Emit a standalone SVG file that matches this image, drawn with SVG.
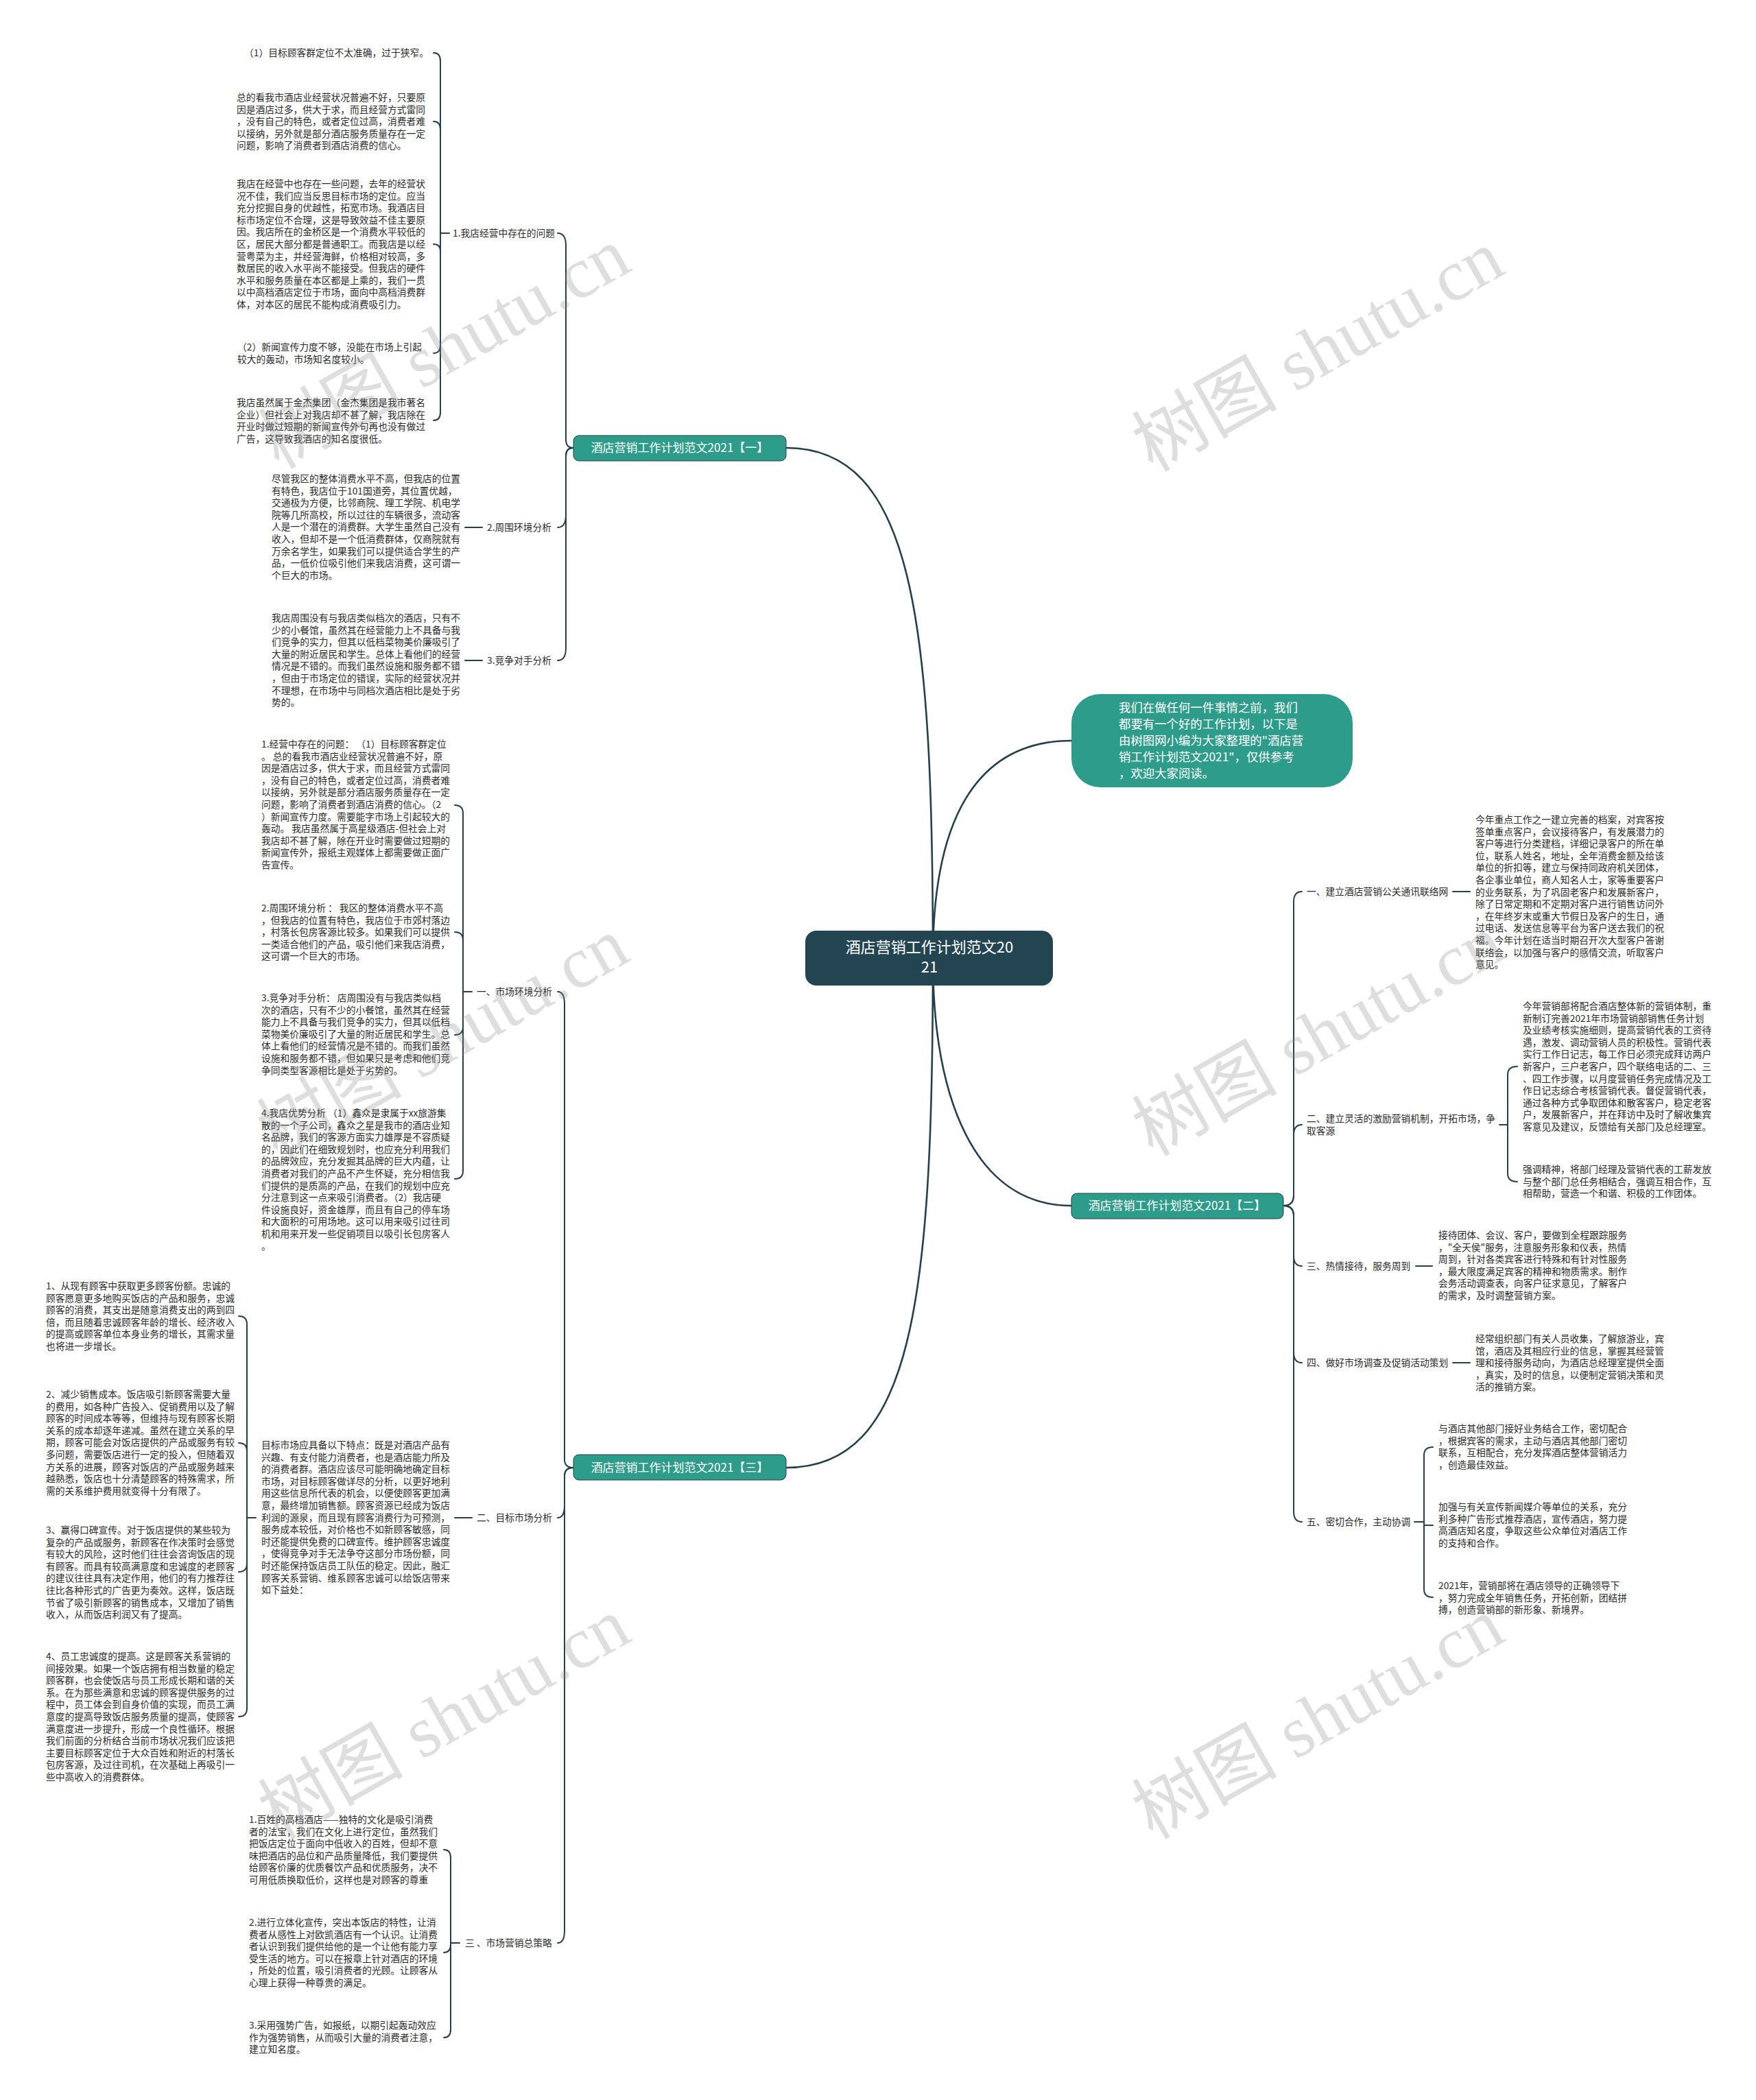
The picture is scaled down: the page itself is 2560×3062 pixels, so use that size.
<svg xmlns="http://www.w3.org/2000/svg" width="2560" height="3062" viewBox="0 0 2560 3062">
<style>
.t{font-family:"Noto Sans CJK SC","Noto Sans",sans-serif;font-size:13.75px;fill:#2b2b2b}
.br{font-family:"Noto Sans CJK SC","Noto Sans",sans-serif;font-size:17px;fill:#ffffff}
.ln{fill:none;stroke:#24404d;stroke-width:2;stroke-linecap:round}
.mn{fill:none;stroke:#24404d;stroke-width:2.6;stroke-linecap:round}
.wm{font-family:"Liberation Serif","Noto Sans CJK SC",serif;font-size:106px;fill:#8a8a8a;opacity:0.28}
</style>
<rect x="0" y="0" width="2560" height="3062" fill="#ffffff"/>

<g id="connectors">
<path class="mn" d="M1146 653 C1330 653 1360 900 1360 1397"/>
<path class="mn" d="M1146 2140 C1330 2140 1360 1900 1360 1397"/>
<path class="mn" d="M1562 1080 C1420 1080 1360 1200 1360 1397"/>
<path class="mn" d="M1562 1758 C1420 1758 1360 1600 1360 1397"/>
<path class="ln" d="M813 340 Q825 340 825 358 L825 641 Q825 653 836 653"/>
<path class="ln" d="M813 769 Q825 769 825 751 L825 665 Q825 653 836 653"/>
<path class="ln" d="M813 963 Q825 963 825 945 L825 665 Q825 653 836 653"/>
<path class="ln" d="M655 340 L642 340"/>
<path class="ln" d="M642 340 L642 89 Q642 77 632 77"/>
<path class="ln" d="M642 340 L642 189 Q642 177 632 177"/>
<path class="ln" d="M642 340 L642 366 Q642 356 632 356"/>
<path class="ln" d="M642 340 L642 503 Q642 515 632 515"/>
<path class="ln" d="M642 340 L642 601 Q642 613 632 613"/>
<path class="ln" d="M678 769 L703 769"/>
<path class="ln" d="M678 963 L703 963"/>
<path class="ln" d="M813 1446 Q823 1446 823 1464 L823 2128 Q823 2140 836 2140"/>
<path class="ln" d="M813 2213 Q823 2213 823 2195 L823 2152 Q823 2140 836 2140"/>
<path class="ln" d="M813 2833 Q823 2833 823 2815 L823 2152 Q823 2140 836 2140"/>
<path class="ln" d="M688 1446 L675 1446"/>
<path class="ln" d="M675 1446 L675 1186 Q675 1174 663 1174"/>
<path class="ln" d="M675 1446 L675 1371 Q675 1359 663 1359"/>
<path class="ln" d="M675 1446 L675 1497 Q675 1509 663 1509"/>
<path class="ln" d="M675 1446 L675 1707 Q675 1719 663 1719"/>
<path class="ln" d="M663 2213 L688 2213"/>
<path class="ln" d="M373 2213 L360 2213"/>
<path class="ln" d="M360 2213 L360 1931 Q360 1919 348 1919"/>
<path class="ln" d="M360 2213 L360 2116 Q360 2104 348 2104"/>
<path class="ln" d="M360 2213 L360 2280 Q360 2292 348 2292"/>
<path class="ln" d="M360 2213 L360 2491 Q360 2503 348 2503"/>
<path class="ln" d="M670 2833 L657 2833"/>
<path class="ln" d="M657 2833 L657 2709 Q657 2697 647 2697"/>
<path class="ln" d="M657 2833 L657 2835 Q657 2847 647 2847"/>
<path class="ln" d="M657 2833 L657 2959 Q657 2971 647 2971"/>
<path class="ln" d="M1871 1758 Q1886 1758 1886 1743 L1886 1315 Q1886 1300 1898 1300"/>
<path class="ln" d="M1871 1758 Q1886 1758 1886 1743 L1886 1655 Q1886 1640 1898 1640"/>
<path class="ln" d="M1871 1758 Q1886 1758 1886 1773 L1886 1831 Q1886 1846 1898 1846"/>
<path class="ln" d="M1871 1758 Q1886 1758 1886 1773 L1886 1972 Q1886 1987 1898 1987"/>
<path class="ln" d="M1871 1758 Q1886 1758 1886 1773 L1886 2204 Q1886 2219 1898 2219"/>
<path class="ln" d="M2118 1300 L2143 1300"/>
<path class="ln" d="M2186 1640 L2198 1640"/>
<path class="ln" d="M2198 1640 L2198 1567 Q2198 1555 2212 1555"/>
<path class="ln" d="M2198 1640 L2198 1711 Q2198 1723 2212 1723"/>
<path class="ln" d="M2064 1846 L2088 1846"/>
<path class="ln" d="M2118 1987 L2143 1987"/>
<path class="ln" d="M2062 2219 L2076 2219"/>
<path class="ln" d="M2076 2219 L2076 2122 Q2076 2110 2089 2110"/>
<path class="ln" d="M2076 2219 L2076 2224 Q2076 2224 2089 2224"/>
<path class="ln" d="M2076 2219 L2076 2317 Q2076 2329 2089 2329"/>
</g>

<g id="root">
<rect x="1174" y="1357" width="361" height="80" rx="16" fill="#234451"/>
<text class="br" style="font-size:22px" text-anchor="middle" x="1355" y="1389"><tspan x="1355">酒店营销工作计划范文20</tspan><tspan x="1355" dy="29">21</tspan></text>
</g>

<g id="intro">
<rect x="1562" y="1012" width="410" height="136" rx="42" fill="#2e9c8a"/>
<text class="br" style="font-size:17.4px" x="1631" y="1038"><tspan x="1631">我们在做任何一件事情之前，我们</tspan><tspan x="1631" dy="24">都要有一个好的工作计划，以下是</tspan><tspan x="1631" dy="24">由树图网小编为大家整理的"酒店营</tspan><tspan x="1631" dy="24">销工作计划范文2021"，仅供参考</tspan><tspan x="1631" dy="24">，欢迎大家阅读。</tspan></text>
</g>

<g id="b1">
<rect x="836" y="635" width="310" height="37" rx="8" fill="#2e9c8a" stroke="#24404d" stroke-width="1"/>
<text class="br" text-anchor="middle" x="991" y="659">酒店营销工作计划范文2021【一】</text>
</g>
<g id="b2">
<rect x="1562" y="1740" width="309" height="37" rx="8" fill="#2e9c8a" stroke="#24404d" stroke-width="1"/>
<text class="br" text-anchor="middle" x="1716" y="1764">酒店营销工作计划范文2021【二】</text>
</g>
<g id="b3">
<rect x="836" y="2121" width="310" height="37" rx="8" fill="#2e9c8a" stroke="#24404d" stroke-width="1"/>
<text class="br" text-anchor="middle" x="991" y="2146">酒店营销工作计划范文2021【三】</text>
</g>

<g id="g1-label"><text class="t" x="660" y="345">1.我店经营中存在的问题</text></g>
<g id="g1-a"><text class="t" x="356" y="82">（1）目标顾客群定位不太准确，过于狭窄。</text></g>
<g id="g1-b"><text class="t" x="345" y="147"><tspan x="345">总的看我市酒店业经营状况普遍不好，只要原</tspan><tspan x="345" dy="17.6">因是酒店过多，供大于求，而且经营方式雷同</tspan><tspan x="345" dy="17.6">，没有自己的特色，或者定位过高，消费者难</tspan><tspan x="345" dy="17.6">以接纳，另外就是部分酒店服务质量存在一定</tspan><tspan x="345" dy="17.6">问题，影响了消费者到酒店消费的信心。</tspan></text></g>
<g id="g1-c"><text class="t" x="345" y="273"><tspan x="345">我店在经营中也存在一些问题，去年的经营状</tspan><tspan x="345" dy="17.6">况不佳，我们应当反思目标市场的定位。应当</tspan><tspan x="345" dy="17.6">充分挖掘自身的优越性，拓宽市场。我酒店目</tspan><tspan x="345" dy="17.6">标市场定位不合理，这是导致效益不佳主要原</tspan><tspan x="345" dy="17.6">因。我店所在的金桥区是一个消费水平较低的</tspan><tspan x="345" dy="17.6">区，居民大部分都是普通职工。而我店是以经</tspan><tspan x="345" dy="17.6">营粤菜为主，并经营海鲜，价格相对较高，多</tspan><tspan x="345" dy="17.6">数居民的收入水平尚不能接受。但我店的硬件</tspan><tspan x="345" dy="17.6">水平和服务质量在本区都是上乘的，我们一贯</tspan><tspan x="345" dy="17.6">以中高档酒店定位于市场，面向中高档消费群</tspan><tspan x="345" dy="17.6">体，对本区的居民不能构成消费吸引力。</tspan></text></g>
<g id="g1-d"><text class="t" x="346" y="511"><tspan x="346">（2）新闻宣传力度不够，没能在市场上引起</tspan><tspan x="346" dy="17.6">较大的轰动，市场知名度较小。</tspan></text></g>
<g id="g1-e"><text class="t" x="345" y="592"><tspan x="345">我店虽然属于金杰集团（金杰集团是我市著名</tspan><tspan x="345" dy="17.6">企业）但社会上对我店却不甚了解，我店除在</tspan><tspan x="345" dy="17.6">开业时做过短期的新闻宣传外句再也没有做过</tspan><tspan x="345" dy="17.6">广告，这导致我酒店的知名度很低。</tspan></text></g>

<g id="g2-label"><text class="t" x="710" y="774">2.周围环境分析</text></g>
<g id="g2-a"><text class="t" x="396" y="703"><tspan x="396">尽管我区的整体消费水平不高，但我店的位置</tspan><tspan x="396" dy="17.6">有特色，我店位于101国道旁，其位置优越，</tspan><tspan x="396" dy="17.6">交通极为方便，比邻商院、理工学院、机电学</tspan><tspan x="396" dy="17.6">院等几所高校，所以过往的车辆很多，流动客</tspan><tspan x="396" dy="17.6">人是一个潜在的消费群。大学生虽然自己没有</tspan><tspan x="396" dy="17.6">收入，但却不是一个低消费群体，仅商院就有</tspan><tspan x="396" dy="17.6">万余名学生，如果我们可以提供适合学生的产</tspan><tspan x="396" dy="17.6">品，一低价位吸引他们来我店消费，这可谓一</tspan><tspan x="396" dy="17.6">个巨大的市场。</tspan></text></g>

<g id="g3-label"><text class="t" x="710" y="968">3.竞争对手分析</text></g>
<g id="g3-a"><text class="t" x="396" y="906"><tspan x="396">我店周围没有与我店类似档次的酒店，只有不</tspan><tspan x="396" dy="17.6">少的小餐馆，虽然其在经营能力上不具备与我</tspan><tspan x="396" dy="17.6">们竞争的实力，但其以低档菜物美价廉吸引了</tspan><tspan x="396" dy="17.6">大量的附近居民和学生。总体上看他们的经营</tspan><tspan x="396" dy="17.6">情况是不错的。而我们虽然设施和服务都不错</tspan><tspan x="396" dy="17.6">，但由于市场定位的错误，实际的经营状况并</tspan><tspan x="396" dy="17.6">不理想，在市场中与同档次酒店相比是处于劣</tspan><tspan x="396" dy="17.6">势的。</tspan></text></g>

<g id="m1-label"><text class="t" x="695" y="1451">一、市场环境分析</text></g>
<g id="m1-a"><text class="t" x="381" y="1090"><tspan x="381">1.经营中存在的问题：  （1）目标顾客群定位</tspan><tspan x="381" dy="17.6">。 总的看我市酒店业经营状况普遍不好，原</tspan><tspan x="381" dy="17.6">因是酒店过多，供大于求，而且经营方式雷同</tspan><tspan x="381" dy="17.6">，没有自己的特色，或者定位过高，消费者难</tspan><tspan x="381" dy="17.6">以接纳，另外就是部分酒店服务质量存在一定</tspan><tspan x="381" dy="17.6">问题，影响了消费者到酒店消费的信心。（2</tspan><tspan x="381" dy="17.6">）新闻宣传力度。需要能字市场上引起较大的</tspan><tspan x="381" dy="17.6">轰动。 我店虽然属于高星级酒店-但社会上对</tspan><tspan x="381" dy="17.6">我店却不甚了解，除在开业时需要做过短期的</tspan><tspan x="381" dy="17.6">新闻宣传外，报纸主观媒体上都需要做正面广</tspan><tspan x="381" dy="17.6">告宣传。</tspan></text></g>
<g id="m1-b"><text class="t" x="381" y="1329"><tspan x="381">2.周围环境分析 ：  我区的整体消费水平不高</tspan><tspan x="381" dy="17.6">，但我店的位置有特色，我店位于市郊村落边</tspan><tspan x="381" dy="17.6">，村落长包房客源比较多。如果我们可以提供</tspan><tspan x="381" dy="17.6">一类适合他们的产品，吸引他们来我店消费，</tspan><tspan x="381" dy="17.6">这可谓一个巨大的市场。</tspan></text></g>
<g id="m1-c"><text class="t" x="381" y="1460"><tspan x="381">3.竞争对手分析：  店周围没有与我店类似档</tspan><tspan x="381" dy="17.6">次的酒店，只有不少的小餐馆，虽然其在经营</tspan><tspan x="381" dy="17.6">能力上不具备与我们竞争的实力，但其以低档</tspan><tspan x="381" dy="17.6">菜物美价廉吸引了大量的附近居民和学生。总</tspan><tspan x="381" dy="17.6">体上看他们的经营情况是不错的。而我们虽然</tspan><tspan x="381" dy="17.6">设施和服务都不错，但如果只是考虑和他们竞</tspan><tspan x="381" dy="17.6">争同类型客源相比是处于劣势的。</tspan></text></g>
<g id="m1-d"><text class="t" x="381" y="1628"><tspan x="381">4.我店优势分析  （1）鑫众是隶属于xx旅游集</tspan><tspan x="381" dy="17.6">散的一个子公司，鑫众之星是我市的酒店业知</tspan><tspan x="381" dy="17.6">名品牌，我们的客源方面实力雄厚是不容质疑</tspan><tspan x="381" dy="17.6">的，因此们在细致规划时，也应充分利用我们</tspan><tspan x="381" dy="17.6">的品牌效应，充分发掘其品牌的巨大内蕴，让</tspan><tspan x="381" dy="17.6">消费者对我们的产品不产生怀疑，充分相信我</tspan><tspan x="381" dy="17.6">们提供的是质高的产品，在我们的规划中应充</tspan><tspan x="381" dy="17.6">分注意到这一点来吸引消费者。（2）我店硬</tspan><tspan x="381" dy="17.6">件设施良好，资金雄厚，而且有自己的停车场</tspan><tspan x="381" dy="17.6">和大面积的可用场地。这可以用来吸引过往司</tspan><tspan x="381" dy="17.6">机和用来开发一些促销项目以吸引长包房客人</tspan><tspan x="381" dy="17.6">。</tspan></text></g>

<g id="m2-label"><text class="t" x="695" y="2218">二、目标市场分析</text></g>
<g id="m2-a"><text class="t" x="381" y="2112"><tspan x="381">目标市场应具备以下特点：既是对酒店产品有</tspan><tspan x="381" dy="17.6">兴趣、有支付能力消费者，也是酒店能力所及</tspan><tspan x="381" dy="17.6">的消费者群。酒店应该尽可能明确地确定目标</tspan><tspan x="381" dy="17.6">市场，对目标顾客做详尽的分析，以更好地利</tspan><tspan x="381" dy="17.6">用这些信息所代表的机会，以便使顾客更加满</tspan><tspan x="381" dy="17.6">意，最终增加销售额。顾客资源已经成为饭店</tspan><tspan x="381" dy="17.6">利润的源泉，而且现有顾客消费行为可预测，</tspan><tspan x="381" dy="17.6">服务成本较低，对价格也不如新顾客敏感，同</tspan><tspan x="381" dy="17.6">时还能提供免费的口碑宣传。维护顾客忠诚度</tspan><tspan x="381" dy="17.6">，使得竞争对手无法争夺这部分市场份额，同</tspan><tspan x="381" dy="17.6">时还能保持饭店员工队伍的稳定。因此，融汇</tspan><tspan x="381" dy="17.6">顾客关系营销、维系顾客忠诚可以给饭店带来</tspan><tspan x="381" dy="17.6">如下益处：</tspan></text></g>
<g id="f1"><text class="t" x="67" y="1880"><tspan x="67">1、从现有顾客中获取更多顾客份额。忠诚的</tspan><tspan x="67" dy="17.6">顾客愿意更多地购买饭店的产品和服务，忠诚</tspan><tspan x="67" dy="17.6">顾客的消费，其支出是随意消费支出的两到四</tspan><tspan x="67" dy="17.6">倍，而且随着忠诚顾客年龄的增长、经济收入</tspan><tspan x="67" dy="17.6">的提高或顾客单位本身业务的增长，其需求量</tspan><tspan x="67" dy="17.6">也将进一步增长。</tspan></text></g>
<g id="f2"><text class="t" x="67" y="2038"><tspan x="67">2、减少销售成本。饭店吸引新顾客需要大量</tspan><tspan x="67" dy="17.6">的费用，如各种广告投入、促销费用以及了解</tspan><tspan x="67" dy="17.6">顾客的时间成本等等，但维持与现有顾客长期</tspan><tspan x="67" dy="17.6">关系的成本却逐年递减。虽然在建立关系的早</tspan><tspan x="67" dy="17.6">期，顾客可能会对饭店提供的产品或服务有较</tspan><tspan x="67" dy="17.6">多问题，需要饭店进行一定的投入，但随着双</tspan><tspan x="67" dy="17.6">方关系的进展，顾客对饭店的产品或服务越来</tspan><tspan x="67" dy="17.6">越熟悉，饭店也十分清楚顾客的特殊需求，所</tspan><tspan x="67" dy="17.6">需的关系维护费用就变得十分有限了。</tspan></text></g>
<g id="f3"><text class="t" x="67" y="2236"><tspan x="67">3、赢得口碑宣传。对于饭店提供的某些较为</tspan><tspan x="67" dy="17.6">复杂的产品或服务，新顾客在作决策时会感觉</tspan><tspan x="67" dy="17.6">有较大的风险，这时他们往往会咨询饭店的现</tspan><tspan x="67" dy="17.6">有顾客。而具有较高满意度和忠诚度的老顾客</tspan><tspan x="67" dy="17.6">的建议往往具有决定作用，他们的有力推荐往</tspan><tspan x="67" dy="17.6">往比各种形式的广告更为奏效。这样，饭店既</tspan><tspan x="67" dy="17.6">节省了吸引新顾客的销售成本，又增加了销售</tspan><tspan x="67" dy="17.6">收入，从而饭店利润又有了提高。</tspan></text></g>
<g id="f4"><text class="t" x="67" y="2420"><tspan x="67">4、员工忠诚度的提高。这是顾客关系营销的</tspan><tspan x="67" dy="17.6">间接效果。如果一个饭店拥有相当数量的稳定</tspan><tspan x="67" dy="17.6">顾客群，也会使饭店与员工形成长期和谐的关</tspan><tspan x="67" dy="17.6">系。在为那些满意和忠诚的顾客提供服务的过</tspan><tspan x="67" dy="17.6">程中，员工体会到自身价值的实现，而员工满</tspan><tspan x="67" dy="17.6">意度的提高导致饭店服务质量的提高，使顾客</tspan><tspan x="67" dy="17.6">满意度进一步提升，形成一个良性循环。根据</tspan><tspan x="67" dy="17.6">我们前面的分析结合当前市场状况我们应该把</tspan><tspan x="67" dy="17.6">主要目标顾客定位于大众百姓和附近的村落长</tspan><tspan x="67" dy="17.6">包房客源，及过往司机，在次基础上再吸引一</tspan><tspan x="67" dy="17.6">些中高收入的消费群体。</tspan></text></g>

<g id="m3-label"><text class="t" x="678" y="2838">三 、市场营销总策略</text></g>
<g id="s1"><text class="t" x="363" y="2658"><tspan x="363">1.百姓的高档酒店——独特的文化是吸引消费</tspan><tspan x="363" dy="17.6">者的法宝，我们在文化上进行定位，虽然我们</tspan><tspan x="363" dy="17.6">把饭店定位于面向中低收入的百姓，但却不意</tspan><tspan x="363" dy="17.6">味把酒店的品位和产品质量降低，我们要提供</tspan><tspan x="363" dy="17.6">给顾客价廉的优质餐饮产品和优质服务，决不</tspan><tspan x="363" dy="17.6">可用低质换取低价，这样也是对顾客的尊重</tspan></text></g>
<g id="s2"><text class="t" x="363" y="2808"><tspan x="363">2.进行立体化宣传，突出本饭店的特性，让消</tspan><tspan x="363" dy="17.6">费者从感性上对欧凯酒店有一个认识。让消费</tspan><tspan x="363" dy="17.6">者认识到我们提供给他的是一个让他有能力享</tspan><tspan x="363" dy="17.6">受生活的地方。可以在报章上针对酒店的环境</tspan><tspan x="363" dy="17.6">，所处的位置，吸引消费者的光顾。让顾客从</tspan><tspan x="363" dy="17.6">心理上获得一种尊贵的满足。</tspan></text></g>
<g id="s3"><text class="t" x="363" y="2958"><tspan x="363">3.采用强势广告，如报纸，以期引起轰动效应</tspan><tspan x="363" dy="17.6">作为强势销售，从而吸引大量的消费者注意，</tspan><tspan x="363" dy="17.6">建立知名度。</tspan></text></g>

<g id="r1-label"><text class="t" x="1905" y="1305">一、建立酒店营销公关通讯联络网</text></g>
<g id="r1-a"><text class="t" x="2151" y="1200"><tspan x="2151">今年重点工作之一建立完善的档案，对宾客按</tspan><tspan x="2151" dy="17.6">签单重点客户，会议接待客户，有发展潜力的</tspan><tspan x="2151" dy="17.6">客户等进行分类建档，详细记录客户的所在单</tspan><tspan x="2151" dy="17.6">位，联系人姓名，地址，全年消费金额及给该</tspan><tspan x="2151" dy="17.6">单位的折扣等，建立与保持同政府机关团体，</tspan><tspan x="2151" dy="17.6">各企事业单位，商人知名人士，家等重要客户</tspan><tspan x="2151" dy="17.6">的业务联系，为了巩固老客户和发展新客户，</tspan><tspan x="2151" dy="17.6">除了日常定期和不定期对客户进行销售访问外</tspan><tspan x="2151" dy="17.6">，在年终岁末或重大节假日及客户的生日，通</tspan><tspan x="2151" dy="17.6">过电话、发送信息等平台为客户送去我们的祝</tspan><tspan x="2151" dy="17.6">福。今年计划在适当时期召开次大型客户答谢</tspan><tspan x="2151" dy="17.6">联络会，以加强与客户的感情交流，听取客户</tspan><tspan x="2151" dy="17.6">意见。</tspan></text></g>
<g id="r2-label"><text class="t" x="1905" y="1636"><tspan x="1905">二、建立灵活的激励营销机制，开拓市场，争</tspan><tspan x="1905" dy="17.6">取客源</tspan></text></g>
<g id="r2-a"><text class="t" x="2220" y="1472"><tspan x="2220">今年营销部将配合酒店整体新的营销体制，重</tspan><tspan x="2220" dy="17.6">新制订完善2021年市场营销部销售任务计划</tspan><tspan x="2220" dy="17.6">及业绩考核实施细则，提高营销代表的工资待</tspan><tspan x="2220" dy="17.6">遇，激发、调动营销人员的积极性。营销代表</tspan><tspan x="2220" dy="17.6">实行工作日记志，每工作日必须完成拜访两户</tspan><tspan x="2220" dy="17.6">新客户，三户老客户，四个联络电话的二、三</tspan><tspan x="2220" dy="17.6">、四工作步骤，以月度营销任务完成情况及工</tspan><tspan x="2220" dy="17.6">作日记志综合考核营销代表。督促营销代表，</tspan><tspan x="2220" dy="17.6">通过各种方式争取团体和散客客户，稳定老客</tspan><tspan x="2220" dy="17.6">户，发展新客户，并在拜访中及时了解收集宾</tspan><tspan x="2220" dy="17.6">客意见及建议，反馈给有关部门及总经理室。</tspan></text></g>
<g id="r2-b"><text class="t" x="2220" y="1710"><tspan x="2220">强调精神，将部门经理及营销代表的工薪发放</tspan><tspan x="2220" dy="17.6">与整个部门总任务相结合，强调互相合作，互</tspan><tspan x="2220" dy="17.6">相帮助，营造一个和谐、积极的工作团体。</tspan></text></g>
<g id="r3-label"><text class="t" x="1905" y="1851">三、热情接待，服务周到</text></g>
<g id="r3-a"><text class="t" x="2097" y="1806"><tspan x="2097">接待团体、会议、客户，要做到全程跟踪服务</tspan><tspan x="2097" dy="17.6">，"全天侯"服务，注意服务形象和仪表，热情</tspan><tspan x="2097" dy="17.6">周到，针对各类宾客进行特殊和有针对性服务</tspan><tspan x="2097" dy="17.6">，最大限度满足宾客的精神和物质需求。制作</tspan><tspan x="2097" dy="17.6">会务活动调查表，向客户征求意见，了解客户</tspan><tspan x="2097" dy="17.6">的需求，及时调整营销方案。</tspan></text></g>
<g id="r4-label"><text class="t" x="1905" y="1992">四、做好市场调查及促销活动策划</text></g>
<g id="r4-a"><text class="t" x="2151" y="1957"><tspan x="2151">经常组织部门有关人员收集，了解旅游业，宾</tspan><tspan x="2151" dy="17.6">馆，酒店及其相应行业的信息，掌握其经营管</tspan><tspan x="2151" dy="17.6">理和接待服务动向，为酒店总经理室提供全面</tspan><tspan x="2151" dy="17.6">，真实，及时的信息，以便制定营销决策和灵</tspan><tspan x="2151" dy="17.6">活的推销方案。</tspan></text></g>
<g id="r5-label"><text class="t" x="1905" y="2224">五、密切合作，主动协调</text></g>
<g id="r5-a"><text class="t" x="2097" y="2088"><tspan x="2097">与酒店其他部门接好业务结合工作，密切配合</tspan><tspan x="2097" dy="17.6">，根据宾客的需求，主动与酒店其他部门密切</tspan><tspan x="2097" dy="17.6">联系，互相配合，充分发挥酒店整体营销活力</tspan><tspan x="2097" dy="17.6">，创造最佳效益。</tspan></text></g>
<g id="r5-b"><text class="t" x="2097" y="2202"><tspan x="2097">加强与有关宣传新闻媒介等单位的关系，充分</tspan><tspan x="2097" dy="17.6">利多种广告形式推荐酒店，宣传酒店，努力提</tspan><tspan x="2097" dy="17.6">高酒店知名度，争取这些公众单位对酒店工作</tspan><tspan x="2097" dy="17.6">的支持和合作。</tspan></text></g>
<g id="r5-c"><text class="t" x="2097" y="2317"><tspan x="2097">2021年，营销部将在酒店领导的正确领导下</tspan><tspan x="2097" dy="17.6">，努力完成全年销售任务，开拓创新，团结拼</tspan><tspan x="2097" dy="17.6">搏，创造营销部的新形象、新境界。</tspan></text></g>

<g id="watermarks">
<text class="wm" text-anchor="middle" x="650" y="543" transform="rotate(-29.4 650 512)">树图 shutu.cn</text>
<text class="wm" text-anchor="middle" x="1924" y="547" transform="rotate(-29.4 1924 516)">树图 shutu.cn</text>
<text class="wm" text-anchor="middle" x="648" y="1549" transform="rotate(-29.4 648 1518)">树图 shutu.cn</text>
<text class="wm" text-anchor="middle" x="1924" y="1545" transform="rotate(-29.4 1924 1514)">树图 shutu.cn</text>
<text class="wm" text-anchor="middle" x="650" y="2541" transform="rotate(-29.4 650 2510)">树图 shutu.cn</text>
<text class="wm" text-anchor="middle" x="1924" y="2541" transform="rotate(-29.4 1924 2510)">树图 shutu.cn</text>
</g>
</svg>
